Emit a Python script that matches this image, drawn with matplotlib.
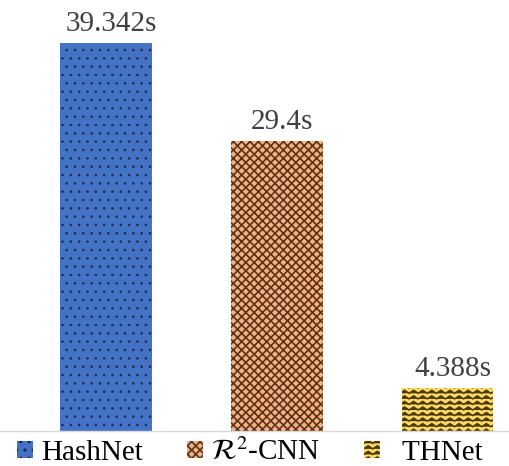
import warnings
warnings.filterwarnings("ignore")
import numpy as np
import matplotlib
matplotlib.use("Agg")
import matplotlib.pyplot as plt
import matplotlib.hatch as mhatch
from matplotlib.path import Path
from matplotlib.patches import Patch

# ---- data ----
methods = ["HashNet", r"$\mathcal{R}^2$-CNN", "THNet"]
times = [39.342, 29.4, 4.388]
labels = ["39.342s", "29.4s", "4.388s"]

# ---- custom zigzag hatch ('z') ----
class ZigZagHatch(mhatch.HatchPatternBase):
    def __init__(self, hatch, density):
        self.num_rows = int(hatch.count('z') * density)
        self.periods = 11
        self.npts = 2 * self.periods + 1
        self.num_vertices = self.num_rows * self.npts

    def set_vertices_and_codes(self, vertices, codes):
        xs = np.linspace(0.0, 1.0, self.npts)
        step = 1.0 / self.num_rows
        amp = 0.55 * step
        for r in range(self.num_rows):
            base = r * step + 0.2 * step
            ys = base + amp * (np.arange(self.npts) % 2)
            sl = slice(r * self.npts, (r + 1) * self.npts)
            vertices[sl, 0] = xs
            vertices[sl, 1] = ys
            codes[sl] = Path.LINETO
            codes[r * self.npts] = Path.MOVETO

mhatch._hatch_types.append(ZigZagHatch)

plt.rcParams['font.family'] = ['Liberation Serif', 'DejaVu Serif']
plt.rcParams['mathtext.fontset'] = 'stix'
plt.rcParams['hatch.linewidth'] = 1.2

face = ["#4472C4", "#F4B183", "#FFD966"]
hatch_col = ["#1a2a55", "#5a3418", "#4a3a08"]
hatches = ["..", "xxxx", "zzz"]
hatch_lw = [0.6, 1.2, 1.1]

fig = plt.figure(figsize=(5.09, 4.66), dpi=100)
ax = fig.add_axes([0, (466 - 431) / 466, 1, 431 / 466])

x = np.arange(len(methods))
for i in range(len(methods)):
    with plt.rc_context({'hatch.linewidth': hatch_lw[i]}):
        b = ax.bar(x[i], times[i], width=0.538, color=face[i], edgecolor=hatch_col[i],
                   linewidth=0, hatch=hatches[i], label=methods[i])
    if hasattr(b[0], 'set_hatch_linewidth'):
        b[0].set_hatch_linewidth(hatch_lw[i])
    ax.annotate(labels[i], (x[i], times[i]), xytext=(4, 4), textcoords='offset points',
                ha='center', va='bottom', fontsize=21, color='#404040')

ax.set_xlim(-0.62, 2.36)
ax.set_ylim(0, 43.70)
for s in ['top', 'right', 'left']:
    ax.spines[s].set_visible(False)
ax.spines['bottom'].set_color('#d9d9d9')
ax.spines['bottom'].set_linewidth(1.0)
ax.set_xticks([])
ax.set_yticks([])
ax.patch.set_alpha(0)

handles = []
for i in range(3):
    with plt.rc_context({'hatch.linewidth': hatch_lw[i]}):
        h = Patch(facecolor=face[i], edgecolor=hatch_col[i], linewidth=0, hatch=hatches[i])
    if hasattr(h, 'set_hatch_linewidth'):
        h.set_hatch_linewidth(hatch_lw[i])
    handles.append(h)
leg_labels = ["HashNet", r"$\mathcal{R}^2$-CNN", "  THNet"]
fig.legend(handles, leg_labels, loc='lower left', bbox_to_anchor=(0.033, 0.0), ncol=3,
           frameon=False, fontsize=21, handlelength=0.55, handleheight=0.55,
           handletextpad=0.28, columnspacing=1.5, borderpad=0.0, borderaxespad=0.0)

fig.savefig("out.png", dpi=100)
